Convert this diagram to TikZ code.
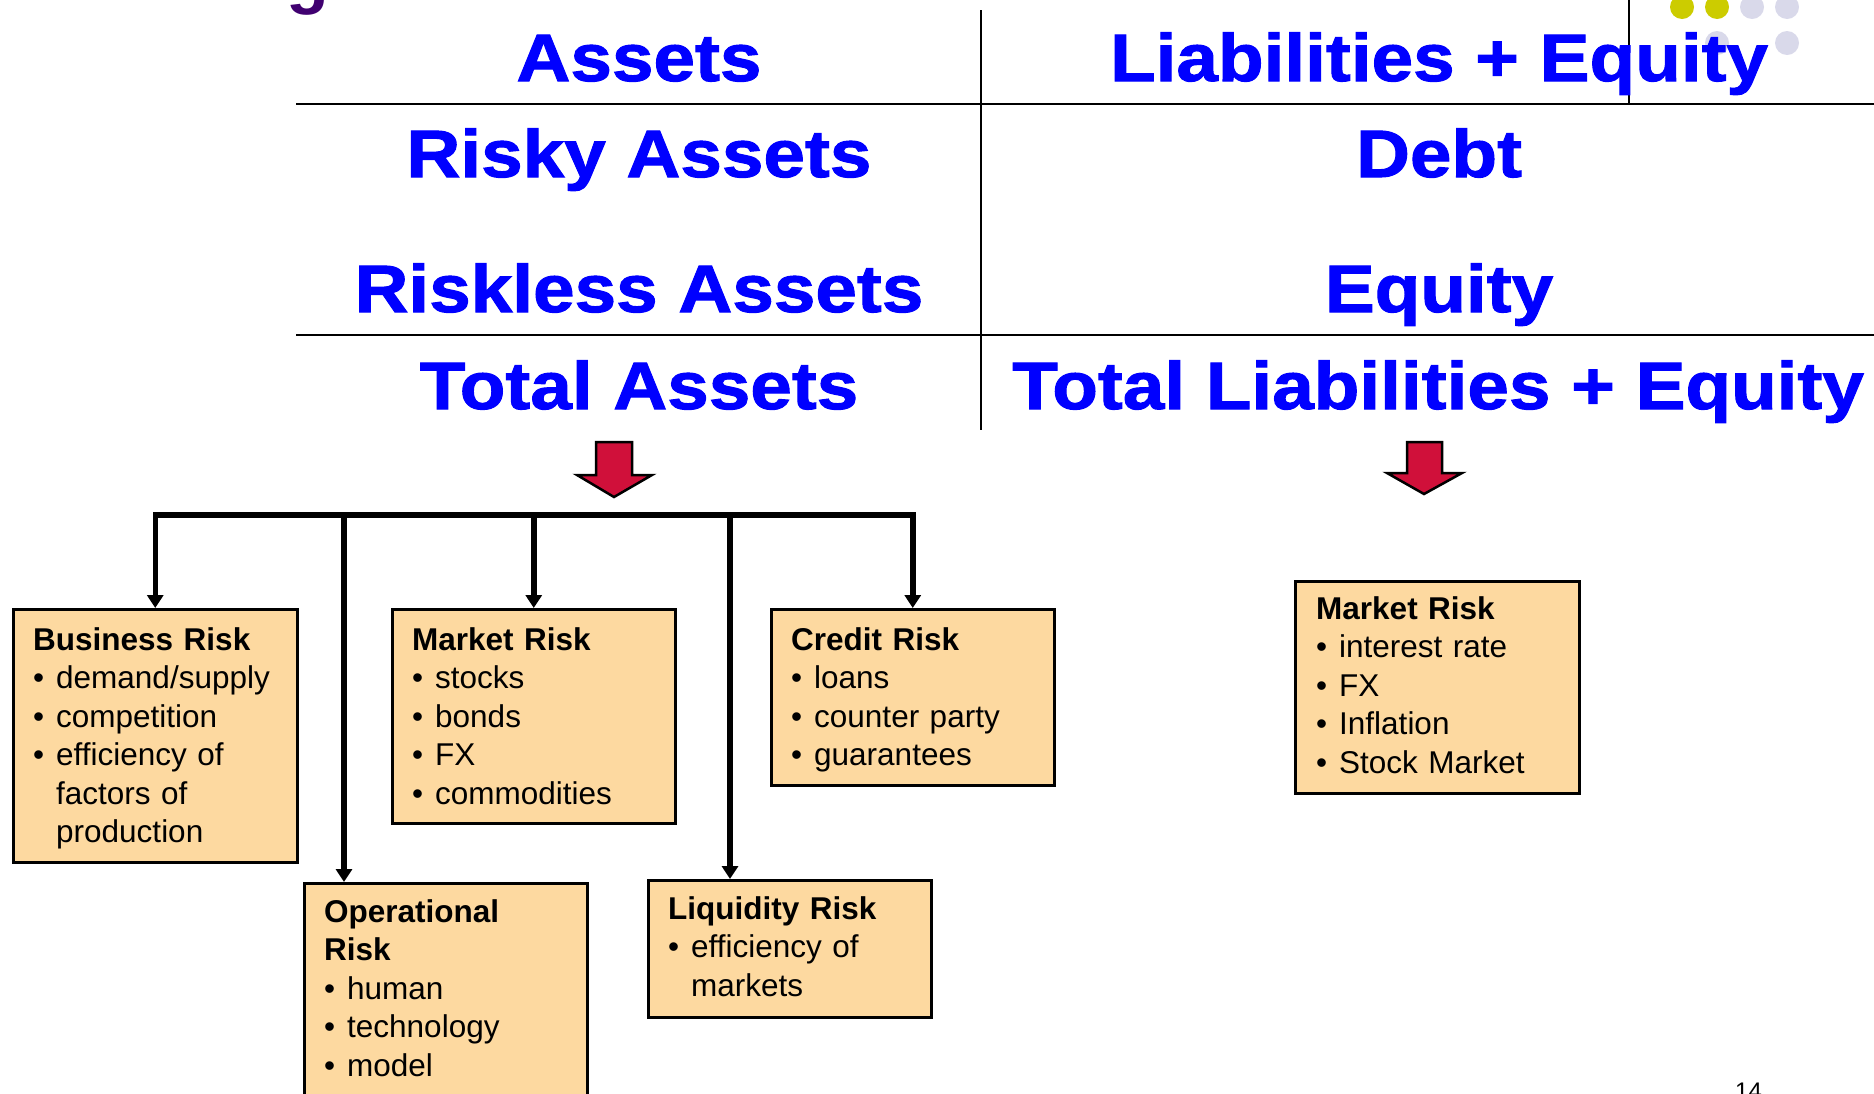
\documentclass[tikz,border=0pt]{standalone}
\usepackage{fontspec}
\setmainfont{Liberation Sans}
\newfontfamily\hfont[FakeStretch=1.115,FakeBold=1.5]{Liberation Sans}
\usetikzlibrary{arrows.meta}
\definecolor{hblue}{RGB}{0,0,255}
\definecolor{boxfill}{RGB}{253,217,160}
\definecolor{arrred}{RGB}{208,16,58}
\definecolor{dotyel}{RGB}{204,204,0}
\definecolor{dotgray}{RGB}{217,217,234}
\definecolor{titlepurple}{RGB}{64,0,112}
\newcommand\bul{\makebox[23pt][l]{\textbullet}}
\newcommand\ind{\hspace*{23pt}}
\tikzset{
 head/.style={font=\hfont\bfseries\fontsize{67}{80}\selectfont, text=hblue, anchor=base, inner sep=0pt},
 rbox/.style={draw=black, line width=2.5pt, fill=boxfill, anchor=north west, inner sep=0pt},
 btxt/.style={font=\fontsize{31.5}{38.5}\selectfont, anchor=base west, inner sep=0pt, text width=270pt, align=left},
 tree/.style={line width=5.5pt, -{Triangle[width=16pt,length=13pt]}},
 rule/.style={line width=2.5pt},
 redarrow/.style={fill=arrred, draw=black, line width=2.5pt, line join=miter},
}
\begin{document}
\begin{tikzpicture}[x=1pt,y=-1pt]
\useasboundingbox (0,0) rectangle (1874,1093);
\clip (0,0) rectangle (1874,1093);
% decoration
\fill[dotyel] (1682,7) circle[radius=12pt];
\fill[dotyel] (1717,7) circle[radius=12pt];
\fill[dotgray] (1752,7) circle[radius=12pt];
\fill[dotgray] (1787,7) circle[radius=12pt];
\fill[dotgray] (1717,43) circle[radius=12pt];
\fill[dotgray] (1787,43) circle[radius=12pt];
\node[font=\bfseries\fontsize{70}{80}\selectfont, text=titlepurple, anchor=base, inner sep=0pt] (gl) at (308,0) {g};
\node[font=\fontsize{24}{28}\selectfont, anchor=base west, inner sep=0pt] (pg) at (1735,1099) {14};
% table rules
\coordinate (r1a) at (296,104); \coordinate (r1b) at (1874,104);
\coordinate (r2a) at (296,335); \coordinate (r2b) at (1874,335);
\coordinate (va) at (981,10); \coordinate (vb) at (981,430);
\coordinate (sa) at (1629,0); \coordinate (sb) at (1629,104);
\draw[rule] (r1a) -- (r1b);
\draw[rule] (r2a) -- (r2b);
\draw[rule] (va) -- (vb);
\draw[rule] (sa) -- (sb);
% headings
\node[head] (hA) at (639,81) {Assets};
\node[head] (hL) at (1439,81) {Liabilities + Equity};
\node[head] (hRA) at (639,177) {Risky Assets};
\node[head] (hD) at (1439,177) {Debt};
\node[head] (hRL) at (639,312) {Riskless Assets};
\node[head] (hE) at (1439,312) {Equity};
\node[head] (hTA) at (639,409) {Total Assets};
\node[head] (hTL) at (1438,409) {Total Liabilities + Equity};
% red arrows
\filldraw[redarrow] (596,442) -- (632,442) -- (632,475) -- (652,475) -- (614,497) -- (577,475) -- (596,475) -- cycle;
\filldraw[redarrow] (1407,442) -- (1442,442) -- (1442,473) -- (1462,473) -- (1424,494) -- (1387,473) -- (1407,473) -- cycle;
% boxes
\node[rbox, minimum width=284pt, minimum height=253pt] (bus) at (12,608) {};
\node[rbox, minimum width=283pt, minimum height=214pt] (mkt) at (391,608) {};
\node[rbox, minimum width=283pt, minimum height=176pt] (cred) at (770,608) {};
\node[rbox, minimum width=283pt, minimum height=240pt] (opr) at (303,882) {};
\node[rbox, minimum width=283pt, minimum height=137pt] (liq) at (647,879) {};
\node[rbox, minimum width=284pt, minimum height=212pt] (rmk) at (1294,580) {};
% box texts
\node[btxt] (bust) at (33,650) {\textbf{Business Risk}\\\bul demand/supply\\\bul competition\\\bul efficiency of\\\ind factors of\\\ind production};
\node[btxt] (mktt) at (412,650) {\textbf{Market Risk}\\\bul stocks\\\bul bonds\\\bul FX\\\bul commodities};
\node[btxt] (credt) at (791,650) {\textbf{Credit Risk}\\\bul loans\\\bul counter party\\\bul guarantees};
\node[btxt] (oprt) at (324,922) {\textbf{Operational}\\\textbf{Risk}\\\bul human\\\bul technology\\\bul model};
\node[btxt] (liqt) at (668,919) {\textbf{Liquidity Risk}\\\bul efficiency of\\\ind markets};
\node[btxt] (rmkt) at (1316,619) {\textbf{Market Risk}\\\bul interest rate\\\bul FX\\\bul Inflation\\\bul Stock Market};
% tree connectors
\coordinate (bar) at (0,515);
\coordinate (opin) at (344,882);
\coordinate (liqin) at (730,879);
\draw[line width=5.5pt, {Triangle[width=16pt,length=13pt]}-{Triangle[width=16pt,length=13pt]}] (bus.north) -- (bus.north |- bar) -- (cred.north |- bar) -- (cred.north);
\draw[tree] (opin |- bar) -- (opin);
\draw[tree] (mkt.north |- bar) -- (mkt.north);
\draw[tree] (liqin |- bar) -- (liqin);
\end{tikzpicture}
\end{document}
